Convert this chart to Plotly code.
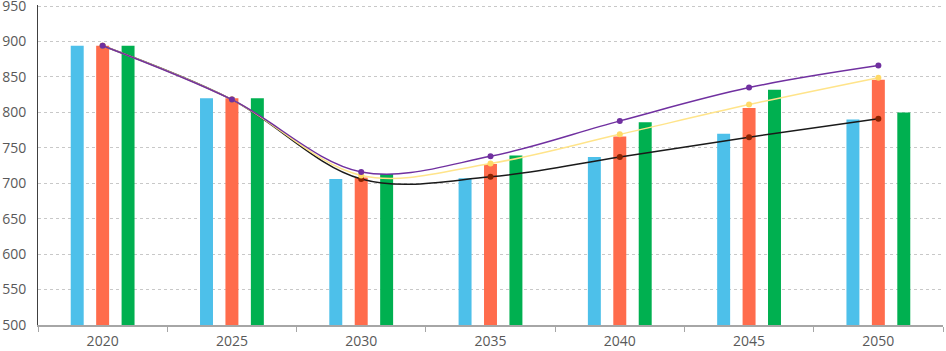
import plotly.graph_objects as go

years = ["2020", "2025", "2030", "2035", "2040", "2045", "2050"]

bar_blue = [894, 820, 706, 707, 737, 770, 790]
bar_orange = [894, 820, 708, 727, 766, 806, 846]
bar_green = [894, 820, 713, 739, 786, 832, 800]

line_purple = [894, 818, 716, 738, 788, 835, 866]
line_yellow = [894, 818, 711, 728, 769, 811, 849]
line_black = [894, 818, 706, 709, 737, 765, 791]

fig = go.Figure()
for vals, col in [(bar_blue, "#4DC0EA"), (bar_orange, "#FF6C4C"), (bar_green, "#00B050")]:
    fig.add_trace(go.Bar(x=years, y=vals, marker=dict(color=col, line=dict(width=0)), showlegend=False))

for vals, lcol, mcol in [(line_black, "#1A1A1A", "#8B2200"),
                         (line_yellow, "#FFE48A", "#FFD966"),
                         (line_purple, "#7030A0", "#7030A0")]:
    fig.add_trace(go.Scatter(x=years, y=vals, mode="lines+markers",
                             line=dict(color=lcol, width=1.5, shape="spline", smoothing=1),
                             marker=dict(color=mcol, size=6), showlegend=False))

fig.update_layout(
    width=946, height=351,
    margin=dict(l=38, r=3, t=5, b=26),
    paper_bgcolor="white", plot_bgcolor="white",
    barmode="group", bargap=0.41, bargroupgap=0.49,
    font=dict(family="Open Sans", size=14, color="#595959"),
)
fig.update_xaxes(type="category", showgrid=False, showline=True, linecolor="#A6A6A6", linewidth=2,
                 ticks="outside", tickson="boundaries", ticklen=5, tickcolor="#A6A6A6",
                 ticklabelstandoff=2, automargin=False, tickfont=dict(size=14, color="#595959"))
fig.update_yaxes(range=[500, 951.5], tickmode="linear", tick0=500, dtick=50,
                 showgrid=True, gridcolor="#C8C8C8", griddash="3px,3px",
                 gridwidth=1, showline=True, linecolor="#404040", linewidth=1, zeroline=False,
                 ticks="", ticklabelstandoff=8, automargin=False, ticklabeloverflow="allow",
                 tickfont=dict(size=14, color="#595959"))

fig.write_html("out.html", config={"displayModeBar": False},
               post_script="document.body.style.margin='0';document.body.style.overflow='hidden';")
